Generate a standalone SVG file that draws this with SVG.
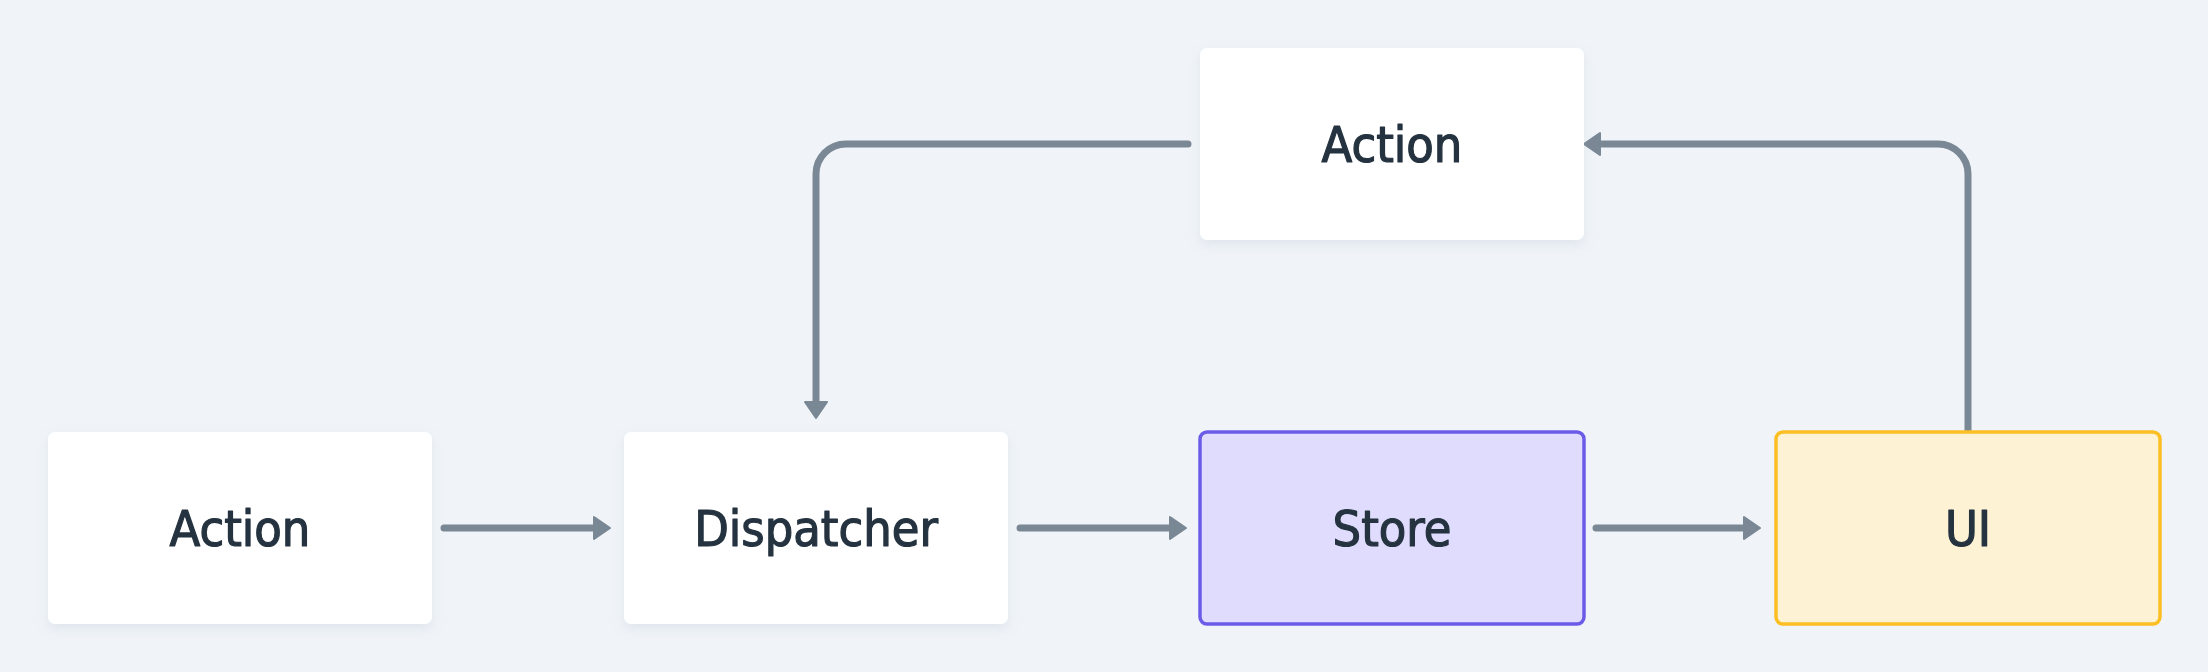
<svg xmlns="http://www.w3.org/2000/svg" width="2208" height="672" viewBox="0 0 2208 672">
  <defs>
    <style>
      .label { font-family: "DejaVu Sans Condensed", "DejaVu Sans", sans-serif; font-size: 50px; fill: #253340; stroke: #253340; stroke-width: 1.2; stroke-linejoin: round; text-anchor: middle; }
      .plain { fill: #ffffff; }
      .store { fill: #e0dcfd; stroke: #6a5ce8; stroke-width: 3.5; }
      .ui { fill: #fdf2d3; stroke: #fbbf24; stroke-width: 3.5; }
      .conn { fill: none; stroke: #7a8795; stroke-width: 7; stroke-linecap: round; stroke-linejoin: round; }
    </style>
    <filter id="shadow" x="-10%" y="-10%" width="120%" height="130%">
      <feDropShadow dx="0" dy="5" stdDeviation="6" flood-color="#94a3b8" flood-opacity="0.18"/>
    </filter>
    <marker id="arrow" markerUnits="userSpaceOnUse" viewBox="-2 -14 20 28" markerWidth="20" markerHeight="28" refX="0" refY="0" orient="auto">
      <path d="M0,-11 L16,0 L0,11 Z" fill="#7a8795" stroke="#7a8795" stroke-width="2" stroke-linejoin="round"/>
    </marker>
  </defs>
  <rect width="2208" height="672" fill="#f0f4f8"/>

  <g id="connectors">
    <path class="conn" d="M444,528 L594,528" marker-end="url(#arrow)"/>
    <path class="conn" d="M1020,528 L1170,528" marker-end="url(#arrow)"/>
    <path class="conn" d="M1596,528 L1744,528" marker-end="url(#arrow)"/>
    <path class="conn" d="M1188,144 L846,144 A30,30 0 0 0 816,174 L816,402" marker-end="url(#arrow)"/>
    <path class="conn" d="M1968,432 L1968,174 A30,30 0 0 0 1938,144 L1600,144" marker-end="url(#arrow)"/>
  </g>

  <g id="action-top">
    <rect class="plain" x="1200" y="48" width="384" height="192" rx="7" filter="url(#shadow)"/>
    <text class="label" x="1392" y="162">Action</text>
  </g>
  <g id="action">
    <rect class="plain" x="48" y="432" width="384" height="192" rx="7" filter="url(#shadow)"/>
    <text class="label" x="240" y="546">Action</text>
  </g>
  <g id="dispatcher">
    <rect class="plain" x="624" y="432" width="384" height="192" rx="7" filter="url(#shadow)"/>
    <text class="label" x="816" y="546">Dispatcher</text>
  </g>
  <g id="store">
    <rect class="store" x="1200" y="432" width="384" height="192" rx="7"/>
    <text class="label" x="1392" y="546">Store</text>
  </g>
  <g id="ui">
    <rect class="ui" x="1776" y="432" width="384" height="192" rx="7"/>
    <text class="label" x="1968" y="546">UI</text>
  </g>
</svg>
